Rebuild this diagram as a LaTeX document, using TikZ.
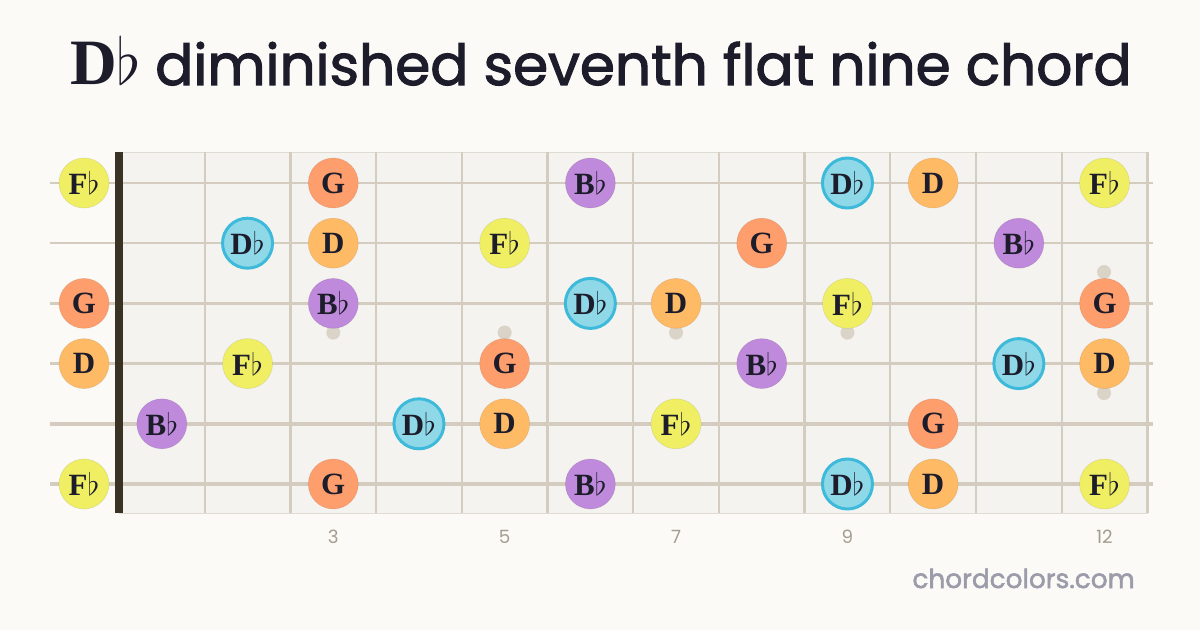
\RequirePackage{fix-cm}
\documentclass[tikz,border=0pt]{standalone}
\usepackage{fontspec}
\usetikzlibrary{positioning}
\newfontfamily\titlefont{Poppins}[RawFeature={embolden=2}]
\newfontfamily\smallfont{Poppins}
\newfontfamily\notefont{Liberation Serif}

\definecolor{pagebg}{HTML}{FBFAF7}
\definecolor{boardbg}{HTML}{F5F3EF}
\definecolor{fretcol}{HTML}{D3CCBF}
\definecolor{nutcol}{HTML}{3A3324}
\definecolor{inkcol}{HTML}{1C1C2B}
\definecolor{dotcol}{HTML}{D9D3C8}
\definecolor{numcol}{HTML}{A39D8E}
\definecolor{sitecol}{HTML}{9B9BAA}
\definecolor{fbcol}{HTML}{F0EF64}
\definecolor{gcol}{HTML}{FF9E6D}
\definecolor{dcol}{HTML}{FFBA66}
\definecolor{bbcol}{HTML}{BF8ADB}
\definecolor{dbcol}{HTML}{8ED8E8}
\definecolor{dbring}{HTML}{3DB9D9}

\newcommand{\fl}{$\flat$}

\tikzset{
  note/.style={circle, inner sep=0pt, minimum size=1.25cm, text=inkcol,
    font=\notefont\bfseries\fontsize{22}{22}\selectfont, draw=black, draw opacity=0.08, line width=0.5pt},
  nfb/.style={note, fill=fbcol},
  ng/.style={note, fill=gcol},
  nd/.style={note, fill=dcol},
  nbb/.style={note, fill=bbcol},
  ndb/.style={note, fill=dbcol, draw=dbring, draw opacity=1, line width=2.1pt},
  inlay/.style={circle, inner sep=0pt, minimum size=0.35cm, fill=dotcol},
  fretnum/.style={anchor=base, text=numcol, font=\smallfont\fontsize{13}{13}\selectfont}
}

\begin{document}
\begin{tikzpicture}[x=0.025cm, y=-0.025cm]
    \useasboundingbox[fill=pagebg] (0,0) rectangle (1200,630);
    % title
    \node (TitleKey) [anchor=base west, inner sep=0pt, text=inkcol,
      font=\notefont\bfseries\fontsize{46}{46}\selectfont] at (70,85) {D\fl};
    \node (TitleName) [anchor=base east, inner sep=0pt, text=inkcol,
      font=\titlefont\fontsize{40.2}{40.2}\selectfont] at (1132,85) {diminished seventh flat nine chord};
    % board
    \fill [boardbg] (119,152) rectangle (1148,513);
    \draw [fretcol!70, line width=0.6pt] (119,152) -- (1148,152);
    \draw [fretcol!70, line width=0.6pt] (119,513) -- (1148,513);
    \foreach \f in {1,2,...,12}{% frets
        \draw [fretcol, line width=1.6pt] (119+85.7*\f,152) -- (119+85.7*\f,513);
    }
    \foreach \f in {3,5,7,9}{% single dots
        \node [inlay] (dot\f) at (119+85.7*\f-42.85,332.6) {};
    }
    \node [inlay] (dot12a) at (1104,272) {};
    \node [inlay] (dot12b) at (1104,393) {};
    \foreach \s/\w in {1/1.4,2/1.6,3/1.9,4/2.3,5/2.8,6/2.8}{% strings
        \draw [fretcol, line width=\w pt] (50,183+60.2*\s-60.2) -- (1153,183+60.2*\s-60.2);
    }
    \fill [nutcol] (115,152) rectangle (122.7,513);% nut
    % notes
    \foreach \s/\f/\n/\t in {1/0/nfb/F\fl,1/3/ng/G,1/6/nbb/B\fl,1/9/ndb/D\fl,1/10/nd/D,1/12/nfb/F\fl,
                             2/2/ndb/D\fl,2/3/nd/D,2/5/nfb/F\fl,2/8/ng/G,2/11/nbb/B\fl,
                             3/0/ng/G,3/3/nbb/B\fl,3/6/ndb/D\fl,3/7/nd/D,3/9/nfb/F\fl,3/12/ng/G,
                             4/0/nd/D,4/2/nfb/F\fl,4/5/ng/G,4/8/nbb/B\fl,4/11/ndb/D\fl,4/12/nd/D,
                             5/1/nbb/B\fl,5/4/ndb/D\fl,5/5/nd/D,5/7/nfb/F\fl,5/10/ng/G,
                             6/0/nfb/F\fl,6/3/ng/G,6/6/nbb/B\fl,6/9/ndb/D\fl,6/10/nd/D,6/12/nfb/F\fl}{%
        \pgfmathsetmacro{\nx}{\f==0 ? 84 : 119+85.7*(\f-0.5)}
        \pgfmathsetmacro{\ny}{183+60.2*(\s-1)}
        \node [\n] (n\s-\f) at (\nx,\ny) {\t};
    }
    % fret numbers
    \foreach \f in {3,5,7,9,12}{%
        \node [fretnum] (num\f) at (119+85.7*\f-42.85,543) {\f};
    }
    \node (Site) [anchor=base east, inner sep=0pt, text=sitecol,
      font=\titlefont\fontsize{18.7}{18.7}\selectfont] at (1135,588) {chordcolors.com};
\end{tikzpicture}
\end{document}
